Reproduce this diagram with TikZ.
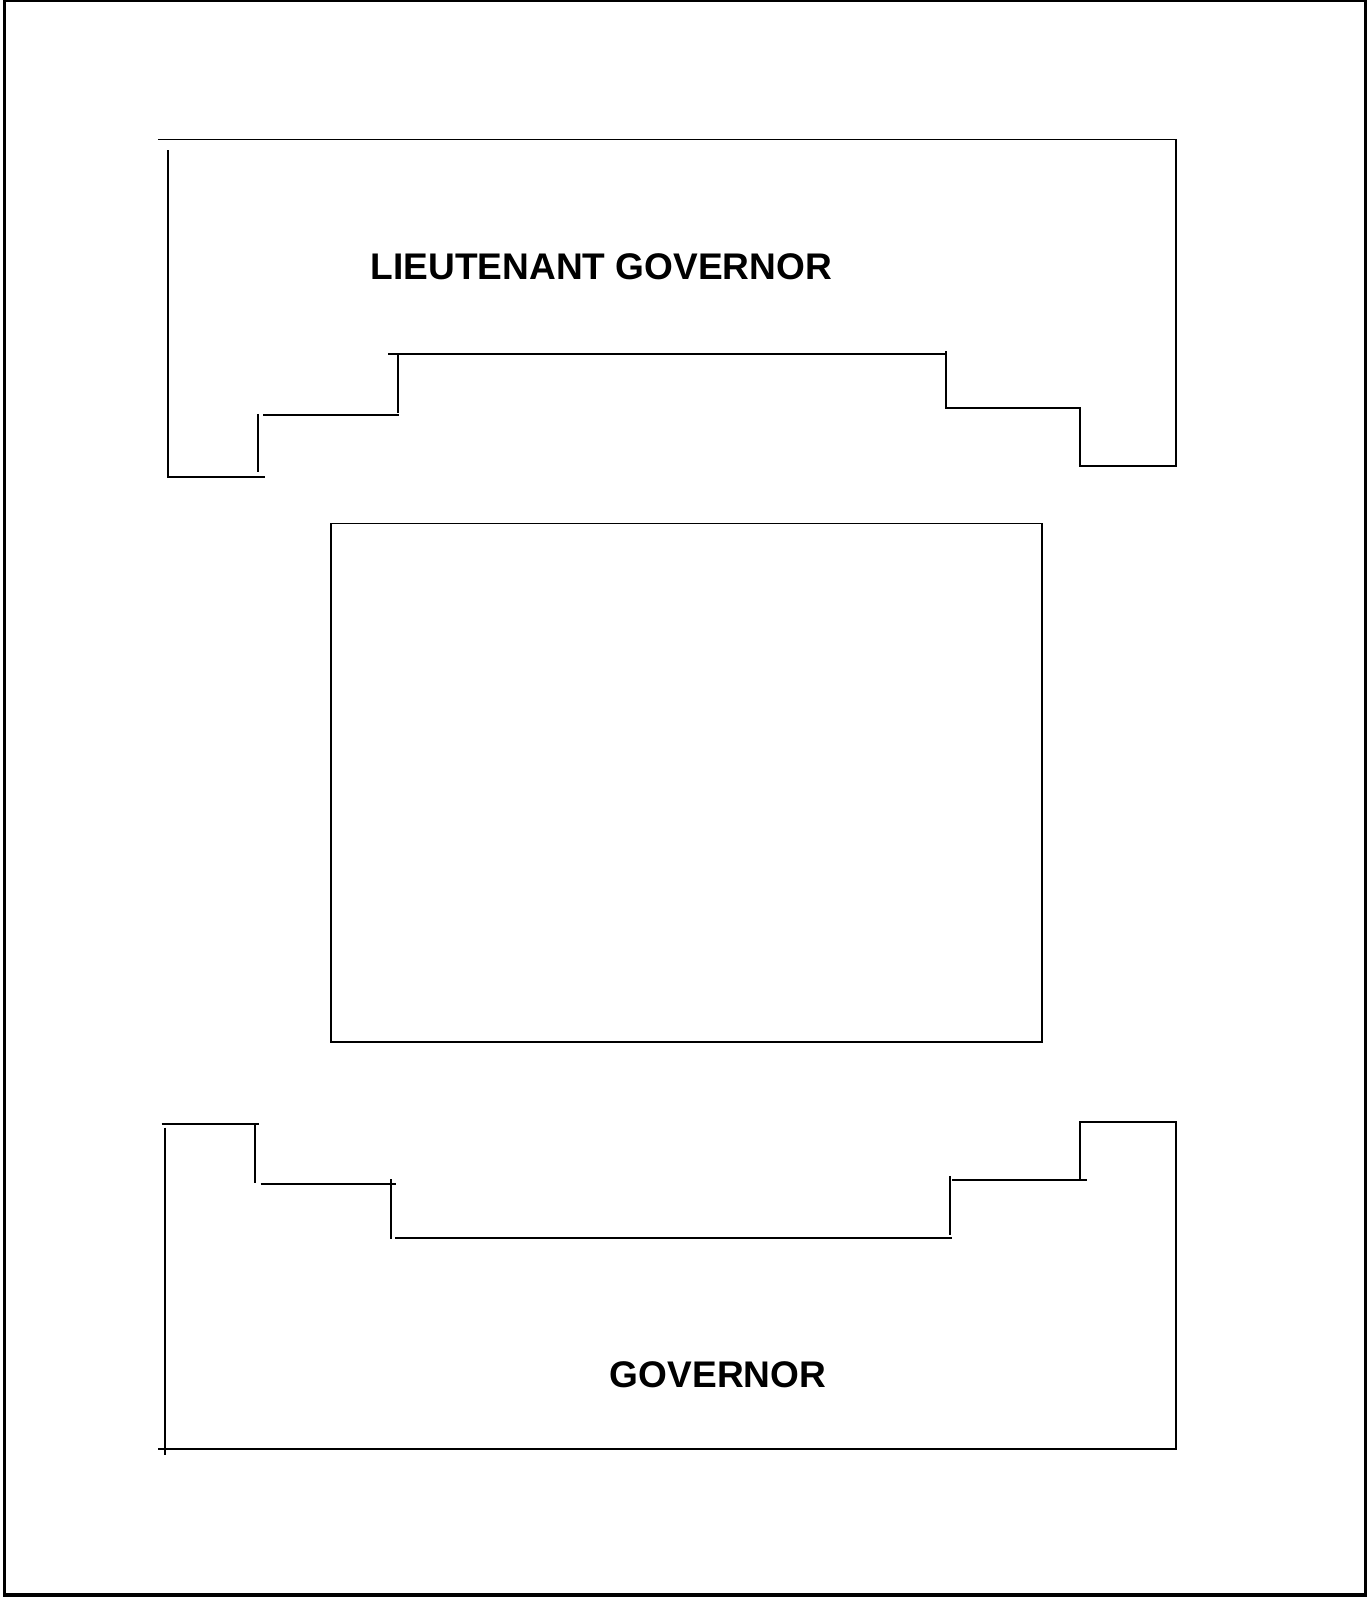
\documentclass[tikz,border=0pt]{standalone}
\usepackage{fontspec}
\setmainfont{Liberation Sans}
\begin{document}
\begin{tikzpicture}[x=1pt,y=-1pt,line width=1.8pt]
			\useasboundingbox (0,0) rectangle (1344,1568);
			\draw[line width=3pt] (4.5,0.5) rectangle (1341,1566);
			% top block
			\draw (155,137)--(1155,137)--(1155,457.2)--(1060.6,457.2)--(1060.6,400.9)--(928.4,400.9)--(928.4,344.3);
			\draw (381.2,347.9)--(929.4,347.9);
			\draw (391,347.9)--(391,405.8);
			\draw (258.5,407.4)--(392,407.4);
			\draw (253,406.4)--(253,463);
			\draw (164.6,147.3)--(164.6,468)--(260.2,468);
			\node[font=\fontsize{36.4}{40}\selectfont\bfseries,anchor=base] (ltgov) at (590.5,274) {LIEUTENANT GOVERNOR};
			% middle block
			\draw (325,514) rectangle (1023,1023);
			% bottom block
			\draw (158.7,1103.8)--(254.3,1103.8);
			\draw (250.3,1103.8)--(250.3,1161.1);
			\draw (255.9,1162.4)--(388.8,1162.4);
			\draw (383.9,1157.8)--(383.9,1216);
			\draw (388,1215.1)--(935,1215.1);
			\draw (932.7,1154.5)--(932.7,1212.5);
			\draw (935,1158.5)--(1067.5,1158.5);
			\draw (1060.6,1158.5)--(1060.6,1101.9)--(1154.5,1101.9)--(1154.5,1422.9)--(155.4,1422.9);
			\draw (162,1107.1)--(162,1428.4);
			\node[font=\fontsize{36.4}{40}\selectfont\bfseries,anchor=base] (gov) at (705,1362) {GOVERNOR};
		\end{tikzpicture}
\end{document}
